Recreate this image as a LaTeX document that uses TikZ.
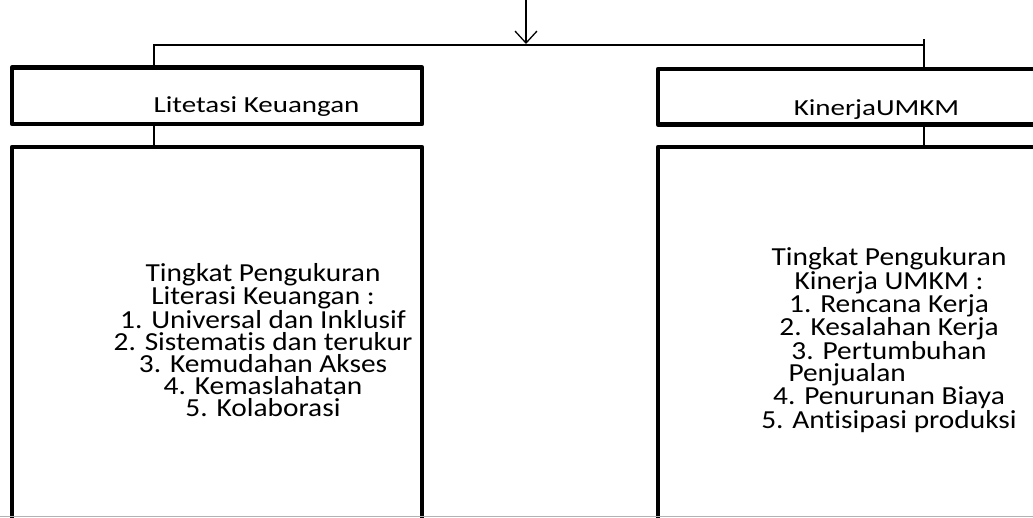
\documentclass[tikz,border=0pt]{standalone}
\usepackage{fontspec}
\setmainfont{Carlito}[Ligatures=NoCommon]
\newfontfamily\bodyfnt{Carlito}[FakeStretch=1.13,Ligatures=NoCommon]
\newfontfamily\titlefnt{Carlito}[FakeStretch=1.26,Ligatures=NoCommon]
\usetikzlibrary{arrows.meta}
\begin{document}
\begin{tikzpicture}[x=1pt,y=-1pt,
  box/.style={draw=black,line width=4.5pt,line join=round,minimum width=410pt,inner sep=0pt},
  conn/.style={draw=black,line width=1.3pt},
  arr/.style={conn,-{Straight Barb[length=12pt,width=22pt,line width=1.3pt]}},
  title/.style={inner sep=0pt,anchor=base,font=\titlefnt\fontsize{23}{23}\selectfont},
  body/.style={inner sep=0pt,align=center,font=\bodyfnt\fontsize{26}{22}\selectfont}]
\useasboundingbox (0,0) rectangle (1033,517);
\clip (0,0) rectangle (1033,517);
% boxes
\node[box,minimum height=56.5pt] (L1) at (217,95.75) {};
\node[box,minimum height=393pt] (L2) at (217,343.5) {};
\node[box,minimum width=387pt,minimum height=55.5pt] (R1) at (851.5,96.75) {};
\node[box,minimum width=387pt,minimum height=393pt] (R2) at (851.5,343.5) {};
% texts
\node[title] (tL) at (256.5,112) {Litetasi Keuangan};
\node[title] (tR) at (876.5,115) {KinerjaUMKM};
\node[body] (bL) at (263,340) {Tingkat Pengukuran\\Literasi Keuangan :\\1. Universal dan Inklusif\\2. Sistematis dan terukur\\3. Kemudahan Akses\\4. Kemaslahatan\\5. Kolaborasi};
\node[body] (bR) at (889,340) {Tingkat Pengukuran\\Kinerja UMKM :\\1. Rencana Kerja\\2. Kesalahan Kerja\\3. Pertumbuhan\\\makebox[201pt][l]{Penjualan}\\4. Penurunan Biaya\\5. Antisipasi produksi};
% connectors
\coordinate (src) at (526,0);
\coordinate (hj) at (526,44);
\coordinate (hr) at (924,45);
\coordinate (rt) at (924,39);
\draw[arr] (src) -- (hj);
\draw[conn] ([xshift=-63pt]L1.north) |- (hr);
\draw[conn] (rt) -- ([xshift=72.5pt]R1.north);
\draw[conn] ([xshift=-63pt]L1.south) -- ([xshift=-63pt]L2.north);
\draw[conn] ([xshift=72.5pt]R1.south) -- ([xshift=72.5pt]R2.north);
\draw[gray!60,line width=1pt] (0,516.5) -- (1033,516.5);
\end{tikzpicture}
\end{document}
